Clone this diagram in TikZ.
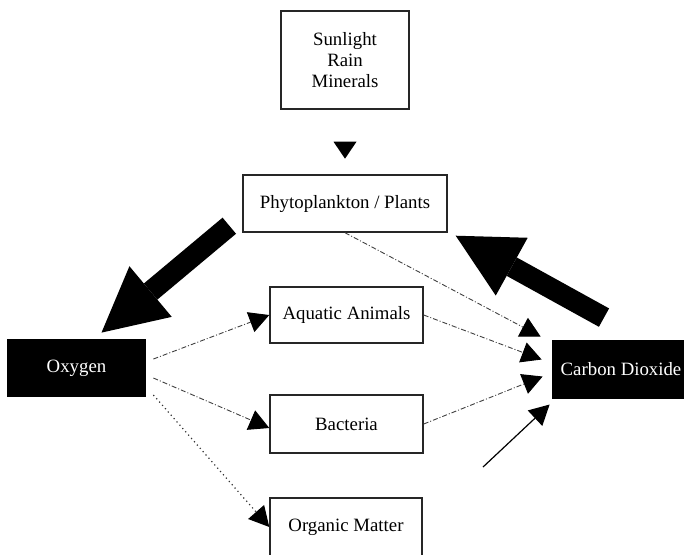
\documentclass[tikz,border=0pt]{standalone}
\usepackage{fontspec}
\setmainfont{Liberation Serif}
\usetikzlibrary{arrows.meta}

\begin{document}
\begin{tikzpicture}[x=0.5pt,y=-0.5pt,
    font=\fontsize{9.4}{10.5}\selectfont,
    box/.style={draw=black!85,line width=0.7pt,inner sep=0pt,align=center},
    darkbox/.style={fill=black,text=white,inner sep=0pt},
    thinflow/.style={black!75,line width=0.45pt,dash pattern=on 2.5pt off 1pt on 0.5pt off 1pt,
        -{Triangle[width=10.5pt,length=10pt,color=black]}},
    dotflow/.style={black!80,line width=0.6pt,dash pattern=on 0.6pt off 1.6pt,
        -{Triangle[width=10.5pt,length=10pt,color=black]}},
    solidflow/.style={black,line width=0.6pt,-{Triangle[width=10.5pt,length=10pt]}},
    fatflow/.style={black,line width=10.5pt,-{Triangle[width=33pt,length=32pt,line width=0pt]}},
    droptip/.style={black,line width=0.3pt,-{Triangle[width=11.5pt,length=8.5pt,line width=0pt]}}]
    \useasboundingbox (0,0) rectangle (684,554);

    % boxes
    \node[box,minimum width=64pt,minimum height=49pt] (sun) at (345,60) {Sunlight\\Rain\\Minerals};
    \node[box,minimum width=102pt,minimum height=28.5pt] (phyto) at (345,203.5) {Phytoplankton / Plants};
    \node[box,minimum width=76.5pt,minimum height=28pt] (aqua) at (346.5,315) {Aquatic Animals};
    \node[box,minimum width=76.5pt,minimum height=29pt] (bact) at (346.5,424) {Bacteria};
    \node[box,minimum width=76pt,minimum height=29pt] (organic) at (346,527) {Organic Matter};
    \node[darkbox,minimum width=69.5pt,minimum height=29pt] (oxy) at (76.5,368) {Oxygen};
    \node[darkbox,minimum width=69pt,minimum height=29.5pt] (co2) at (621,369.5) {Carbon Dioxide};

    % sunlight into plants
    \draw[droptip] ([shift={(0,32)}]sun.south) -- ++(0,17);

    % big flows
    \draw[fatflow] ([shift={(-13,-7)}]phyto.south west) -- ([shift={(25,-6)}]oxy.north);
    \draw[fatflow] ([shift={(-17,-22)}]co2.north) -- ([shift={(8,3)}]phyto.south east);

    % into carbon dioxide
    \draw[thinflow] (phyto.south) -- ([shift={(-11,-33)}]co2.west);
    \draw[thinflow] (aqua.east) -- ([shift={(-10,-10)}]co2.west);
    \draw[thinflow] (bact.east) -- ([shift={(-9,7)}]co2.west);
    \coordinate (src) at (483,467);
    \draw[solidflow] (src) -- ([shift={(-2,35)}]co2.west);

    % out of oxygen
    \draw[thinflow] ([shift={(7,-9)}]oxy.east) -- (aqua.west);
    \draw[thinflow] ([shift={(7,10)}]oxy.east) -- ([shift={(0,4)}]bact.west);
    \draw[dotflow] ([shift={(7,27)}]oxy.east) -- (organic.west);
\end{tikzpicture}
\end{document}
